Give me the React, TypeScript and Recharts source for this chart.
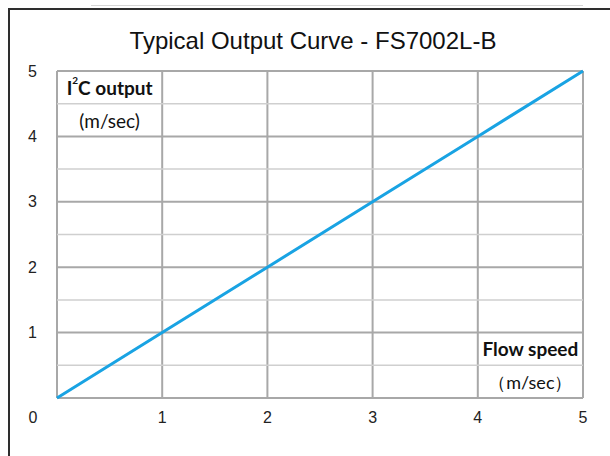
import React from "react";
import {
  LineChart,
  Line,
  XAxis,
  YAxis,
  CartesianGrid,
  ReferenceLine,
  ReferenceArea,
} from "recharts";

// flow speed (m/sec) vs I2C output (m/sec)
const flowSpeed = [0, 1, 2, 3, 4, 5];
const i2cOutput = [0, 1, 2, 3, 4, 5];
const xTicks = [0, 1, 2, 3, 4, 5];
const yTicks = [0, 1, 2, 3, 4, 5];
const minorY = [0.5, 1.5, 2.5, 3.5, 4.5];

const data = flowSpeed.map((x, i) => ({ x, y: i2cOutput[i] }));

const tickFont = "'Liberation Sans', Arial, sans-serif";
const labelFont = "Lato, 'Open Sans', sans-serif";

function YTick(props: any) {
  const { x, y, payload } = props;
  if (payload.value === 0) return null;
  return (
    <text x={x} y={y} textAnchor="end" dominantBaseline="central" fontSize={16} fontFamily={tickFont} fill="#222">
      {payload.value}
    </text>
  );
}

function XTick(props: any) {
  const { x, y, payload } = props;
  // origin "0" sits under the y-axis labels
  const tx = payload.value === 0 ? x - 24 : x;
  return (
    <text x={tx} y={y} textAnchor="middle" dominantBaseline="central" fontSize={16} fontFamily={tickFont} fill="#222">
      {payload.value}
    </text>
  );
}

function CellText({ viewBox, kind }: any) {
  const cx = viewBox.x + viewBox.width / 2;
  const cy = viewBox.y + viewBox.height / 2;
  const common = {
    x: cx,
    y: cy,
    textAnchor: "middle" as const,
    dominantBaseline: "central" as const,
    fontFamily: labelFont,
    fill: "#111",
  };
  if (kind === "i2c") {
    return (
      <text {...common} fontSize={19} fontWeight={700}>
        <tspan>I</tspan>
        <tspan dy={-7} fontSize={10}>2</tspan>
        <tspan dy={7}>C output</tspan>
      </text>
    );
  }
  if (kind === "flow") {
    return (
      <text {...common} fontSize={19} fontWeight={700}>
        Flow speed
      </text>
    );
  }
  if (kind === "unitY") {
    return (
      <text {...common} fontSize={19}>
        (m/sec)
      </text>
    );
  }
  return (
    <text {...common} fontSize={18}>
      （m/sec）
    </text>
  );
}

export default function App() {
  return (
    <div style={{ position: "absolute", left: 0, top: 0, width: 610, height: 456, background: "#fff" }}>
      <div style={{ position: "absolute", left: 91, top: 5, width: 492, height: 0, borderTop: "1px solid #d6d6d6" }} />
      <div
        style={{
          position: "absolute",
          left: 8,
          top: 8,
          width: 602,
          height: 448,
          borderLeft: "2px solid #2e2e2e",
          borderTop: "2px solid #2e2e2e",
          boxSizing: "border-box",
        }}
      />
      <div
        style={{
          position: "absolute",
          left: 0,
          top: 27,
          width: 626,
          textAlign: "center",
          fontFamily: tickFont,
          fontSize: 24,
          color: "#111",
        }}
      >
        Typical Output Curve - FS7002L-B
      </div>
      <div style={{ position: "absolute", left: 0, top: 0 }}>
        <LineChart width={610} height={456} data={data} margin={{ top: 71, right: 27, bottom: 28, left: 17 }}>
          <ReferenceArea x1={0} x2={1} y1={4.5} y2={5} fillOpacity={0} strokeOpacity={0} label={<CellText kind="i2c" />} />
          <ReferenceArea x1={0} x2={1} y1={4} y2={4.5} fillOpacity={0} strokeOpacity={0} label={<CellText kind="unitY" />} />
          <ReferenceArea x1={4} x2={5} y1={0.5} y2={1} fillOpacity={0} strokeOpacity={0} label={<CellText kind="flow" />} />
          <ReferenceArea x1={4} x2={5} y1={0} y2={0.5} fillOpacity={0} strokeOpacity={0} label={<CellText kind="unitX" />} />
          {minorY.map((v) => (
            <ReferenceLine key={v} y={v} stroke="#cfcfcf" strokeWidth={1.5} />
          ))}
          <CartesianGrid stroke="#a8a8a8" strokeWidth={2} />
          <XAxis
            type="number"
            dataKey="x"
            domain={[0, 5]}
            ticks={xTicks}
            axisLine={false}
            tickLine={false}
            tickSize={0}
            tickMargin={19}
            height={30}
            tick={<XTick />}
            interval={0}
          />
          <YAxis
            type="number"
            domain={[0, 5]}
            ticks={yTicks}
            axisLine={false}
            tickLine={false}
            tickSize={0}
            tickMargin={20}
            width={40}
            tick={<YTick />}
            interval={0}
          />
          <Line type="linear" dataKey="y" stroke="#19a3e3" strokeWidth={3} dot={false} isAnimationActive={false} />
        </LineChart>
      </div>
    </div>
  );
}
